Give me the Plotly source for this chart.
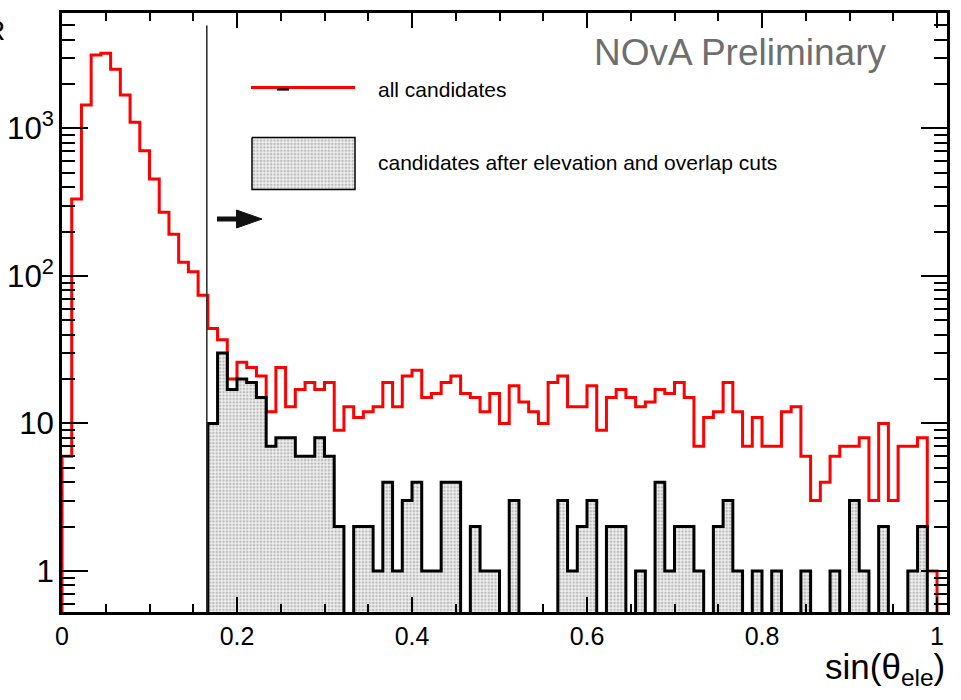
import numpy as np
import plotly.graph_objects as go

# ---------------- data ----------------
X_MIN, X_MAX, N_BINS = 0.0, 1.0, 90
bin_edges = np.linspace(X_MIN, X_MAX, N_BINS + 1)

# all candidates (red)
all_counts = [
    6, 333, 1443, 3150, 3240, 2519, 1687, 1102, 707, 455,
    270, 192, 124, 107, 74, 44, 37, 20, 26, 24,
    21, 12, 24, 13, 17, 19, 17, 19, 9, 13,
    11, 12, 13, 19, 13, 21, 23, 15, 16, 19,
    21, 16, 15, 12, 16, 10, 18, 14, 12, 10,
    19, 21, 13, 13, 18, 9, 15, 17, 15, 13,
    14, 17, 16, 19, 15, 7, 11, 12, 19, 12,
    7, 11, 7, 7, 12, 13, 6, 3, 4, 6,
    7, 7, 8, 3, 10, 3, 7, 7, 8, 1,
]

# candidates after elevation and overlap cuts (grey, filled)
cut_counts = [
    0, 0, 0, 0, 0, 0, 0, 0, 0, 0,
    0, 0, 0, 0, 0, 10, 30, 17, 20, 19,
    15, 7, 8, 8, 6, 6, 8, 6, 2, 0,
    2, 2, 1, 4, 1, 3, 4, 1, 1, 4,
    4, 0, 2, 1, 1, 0, 3, 0, 0, 0,
    0, 3, 1, 2, 3, 0, 2, 2, 0, 1,
    0, 4, 1, 2, 2, 1, 0, 2, 3, 1,
    0, 1, 0, 1, 0, 0, 1, 0, 0, 1,
    0, 3, 1, 0, 2, 0, 0, 1, 2, 0,
]
CUT_FIRST_BIN = 15

CUT_VALUE = 0.1655
CUT_LINE_TOP = 5000

x_tick_vals = [0, 0.2, 0.4, 0.6, 0.8, 1.0]
x_tick_text = ["0", "0.2", "0.4", "0.6", "0.8", "1"]

legend_labels = ["all candidates", "candidates after elevation and overlap cuts"]
x_title = "sin(θ<sub>ele</sub>)"
watermark = "NOvA Preliminary"

# ---------------- helpers ----------------
FLOOR = 0.2  # below visible range (for zero bins / closing paths)


def step_path(counts, first):
    xs = [bin_edges[first]]
    ys = [FLOOR]
    for i in range(first, N_BINS):
        xs.append(bin_edges[i])
        ys.append(counts[i] if counts[i] > 0 else FLOOR)
    xs.append(bin_edges[N_BINS])
    ys.append(FLOOR)
    return xs, ys


W, H = 961, 700
L, R, T, B = 62, 947, 13, 612  # plot area in pixels


def px(x):
    return (x - L) / (R - L)


def py(y):
    return (B - y) / (B - T)


FONT = "Liberation Sans, Arial, Helvetica, sans-serif"
PATTERN = dict(shape=".", bgcolor="#f0f0f0", fgcolor="#888888", size=3.4, solidity=0.45)

fig = go.Figure()

rx, ry = step_path(all_counts, 0)
fig.add_trace(go.Scatter(
    x=rx, y=ry, mode="lines", line=dict(color="#ff0000", width=3, shape="hv"),
    hoverinfo="skip", showlegend=False,
))

gx, gy = step_path(cut_counts, CUT_FIRST_BIN)
fig.add_trace(go.Scatter(
    x=gx, y=gy, mode="lines", line=dict(color="black", width=3, shape="hv"),
    fill="toself", fillcolor="#e0e0e0", fillpattern=PATTERN,
    hoverinfo="skip", showlegend=False,
))

# cut line
fig.add_trace(go.Scatter(
    x=[CUT_VALUE, CUT_VALUE], y=[FLOOR, CUT_LINE_TOP], mode="lines",
    line=dict(color="#333333", width=1.6), hoverinfo="skip", showlegend=False,
))

# legend decorations and arrow on a pixel-space overlay axis
deco = [
    dict(x=[251, 355], y=[87.5, 87.5], line=dict(color="#ff0000", width=3)),
    dict(x=[277, 289], y=[89.5, 89.5], line=dict(color="black", width=2.2)),
    dict(x=[217, 238], y=[219, 219], line=dict(color="#111111", width=5)),
]
for d in deco:
    fig.add_trace(go.Scatter(
        x=d["x"], y=d["y"], mode="lines", line=d["line"],
        xaxis="x2", yaxis="y2", hoverinfo="skip", showlegend=False,
    ))
fig.add_trace(go.Scatter(
    x=[236.5, 262, 236.5, 236.5], y=[210, 219, 228, 210], mode="lines",
    line=dict(color="#111111", width=1), fill="toself", fillcolor="#111111",
    xaxis="x2", yaxis="y2", hoverinfo="skip", showlegend=False,
))
fig.add_trace(go.Scatter(
    x=[252, 355, 355, 252, 252], y=[137.5, 137.5, 189.5, 189.5, 137.5], mode="lines",
    line=dict(color="black", width=1.5), fill="toself", fillcolor="#e0e0e0",
    fillpattern=PATTERN,
    xaxis="x2", yaxis="y2", hoverinfo="skip", showlegend=False,
))

annotations = [
    dict(text=watermark, x=px(888), y=py(53), xref="paper", yref="paper",
         xanchor="right", yanchor="middle", showarrow=False,
         font=dict(family=FONT, size=37, color="#6e6e6e")),
    dict(text=legend_labels[0], x=px(376), y=py(89), xref="paper", yref="paper",
         xanchor="left", yanchor="middle", showarrow=False,
         font=dict(family=FONT, size=21, color="black")),
    dict(text=legend_labels[1], x=px(376), y=py(162), xref="paper", yref="paper",
         xanchor="left", yanchor="middle", showarrow=False,
         font=dict(family=FONT, size=21, color="black")),
    dict(text=x_title, x=px(947), y=py(669), xref="paper", yref="paper",
         xanchor="right", yanchor="middle", showarrow=False,
         font=dict(family=FONT, size=35, color="black")),
    dict(text="R", x=px(7), y=py(31), xref="paper", yref="paper",
         xanchor="right", yanchor="middle", showarrow=False,
         font=dict(family=FONT, size=28, color="black")),
]

fig.update_layout(
    width=W, height=H,
    margin=dict(l=L, r=W - R, t=T, b=H - B, pad=0, autoexpand=False),
    paper_bgcolor="white", plot_bgcolor="white",
    font=dict(family=FONT, size=25, color="black"),
    showlegend=False,
    annotations=annotations,
    xaxis=dict(
        range=[0, (R - L) / 875.0], tickvals=x_tick_vals, ticktext=x_tick_text,
        automargin=False,
        ticks="inside", ticklen=15, tickwidth=1.5, tickcolor="black",
        showline=True, linewidth=3, linecolor="black", mirror="ticks",
        showgrid=False, zeroline=False,
        tickfont=dict(family=FONT, size=25, color="black"),
        minor=dict(ticks="inside", ticklen=8, tickwidth=1.5, tickcolor="black",
                   dtick=0.05, tick0=0, showgrid=False),
    ),
    yaxis=dict(
        type="log", range=[-0.278, 3.783], dtick=1, exponentformat="power",
        automargin=False,
        ticks="inside", ticklen=26, tickwidth=1.5, tickcolor="black",
        showline=True, linewidth=3, linecolor="black", mirror="ticks",
        showgrid=False, zeroline=False,
        tickfont=dict(family=FONT, size=25, color="black"),
        minor=dict(ticks="inside", ticklen=13, tickwidth=1.5, tickcolor="black",
                   dtick="D1", showgrid=False),
    ),
    xaxis2=dict(range=[L, R], overlaying="x", anchor="y2", visible=False,
                automargin=False, showgrid=False, zeroline=False),
    yaxis2=dict(range=[B, T], overlaying="y", anchor="x2", visible=False,
                automargin=False, showgrid=False, zeroline=False),
)

fig.write_html("out.html")
